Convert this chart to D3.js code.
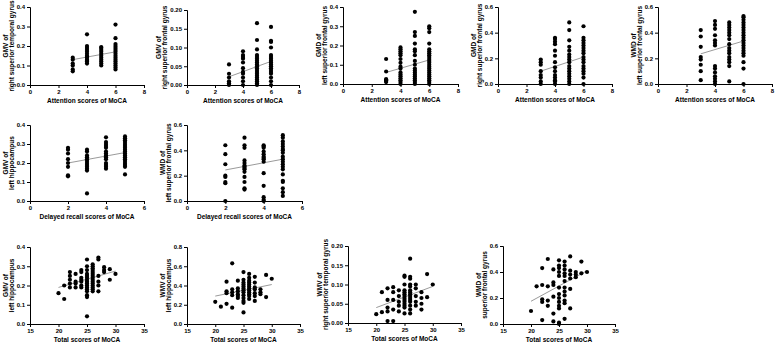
<!DOCTYPE html>
<html>
  <head>
    <meta charset="utf-8">
    <style type="text/css">
      body { margin: 0; background: #fff; }
      svg text { font-family: "Liberation Sans", Arial, sans-serif; font-weight: bold; fill: #000; }
    </style>
  </head>
  <body>
    <svg id="chart" width="776" height="346"></svg>
    <script src="https://d3js.org/d3.v7.min.js"></script>
    <script>
      // grouped data: [score, [values...]]
      const attnGmvRstg = [
        [3, [0.07, 0.08, 0.10, 0.11, 0.13, 0.14]],
        [4, [0.11, 0.12, 0.125, 0.13, 0.14, 0.145, 0.15, 0.16, 0.17, 0.18, 0.19, 0.20, 0.26]],
        [5, [0.10, 0.11, 0.12, 0.13, 0.14, 0.15, 0.16, 0.17, 0.18, 0.19, 0.195]],
        [6, [0.08, 0.09, 0.10, 0.11, 0.12, 0.13, 0.14, 0.15, 0.16, 0.17, 0.18, 0.19, 0.20, 0.21, 0.24, 0.31]]
      ];
      const attnGmvRsfg = [
        [3, [0.0, 0.005, 0.01, 0.02, 0.03, 0.055]],
        [4, [0.0, 0.01, 0.02, 0.03, 0.035, 0.045, 0.06, 0.07, 0.075, 0.08, 0.09]],
        [5, [0.0, 0.005, 0.01, 0.015, 0.02, 0.025, 0.03, 0.035, 0.04, 0.045, 0.05, 0.055, 0.06, 0.065, 0.07, 0.075, 0.08, 0.095, 0.12, 0.165]],
        [6, [0.0, 0.01, 0.02, 0.03, 0.035, 0.04, 0.045, 0.05, 0.055, 0.06, 0.065, 0.07, 0.075, 0.08, 0.1, 0.115, 0.118, 0.155]]
      ];
      const attnGmdLsfg = [
        [3, [0.01, 0.015, 0.02, 0.025, 0.065, 0.13]],
        [4, [0.0, 0.01, 0.02, 0.03, 0.04, 0.05, 0.06, 0.08, 0.09, 0.11, 0.13, 0.15, 0.16, 0.17, 0.18, 0.19]],
        [5, [0.0, 0.01, 0.02, 0.03, 0.04, 0.05, 0.06, 0.07, 0.08, 0.10, 0.12, 0.15, 0.17, 0.18, 0.21, 0.25, 0.27, 0.375]],
        [6, [0.0, 0.01, 0.02, 0.03, 0.04, 0.05, 0.06, 0.07, 0.08, 0.09, 0.10, 0.11, 0.12, 0.13, 0.14, 0.15, 0.16, 0.17, 0.18, 0.21, 0.27, 0.29, 0.30]]
      ];
      const attnGmdRsfg = [
        [3, [0.0, 0.02, 0.05, 0.07, 0.10, 0.15, 0.17, 0.19]],
        [4, [0.0, 0.02, 0.03, 0.05, 0.07, 0.10, 0.13, 0.17, 0.22, 0.26, 0.31, 0.33, 0.35, 0.36]],
        [5, [0.0, 0.02, 0.04, 0.06, 0.08, 0.10, 0.12, 0.14, 0.17, 0.19, 0.21, 0.23, 0.26, 0.29, 0.34, 0.42, 0.48]],
        [6, [0.0, 0.05, 0.08, 0.10, 0.12, 0.14, 0.17, 0.19, 0.21, 0.24, 0.26, 0.28, 0.30, 0.32, 0.34, 0.36, 0.45]]
      ];
      const attnWmdLsfg = [
        [3, [0.03, 0.10, 0.15, 0.19, 0.21, 0.29, 0.37, 0.42]],
        [4, [0.0, 0.02, 0.04, 0.06, 0.09, 0.12, 0.14, 0.30, 0.32, 0.34, 0.38, 0.43, 0.46, 0.49]],
        [5, [0.02, 0.14, 0.17, 0.19, 0.21, 0.24, 0.26, 0.28, 0.31, 0.35, 0.38, 0.40, 0.42, 0.44, 0.46, 0.48]],
        [6, [0.0, 0.12, 0.17, 0.22, 0.24, 0.26, 0.28, 0.30, 0.32, 0.34, 0.36, 0.38, 0.40, 0.42, 0.44, 0.46, 0.48, 0.50, 0.52, 0.53]]
      ];
      const recallGmvLhip = [
        [2, [0.13, 0.135, 0.18, 0.20, 0.22, 0.25, 0.27, 0.28]],
        [3, [0.04, 0.16, 0.17, 0.18, 0.19, 0.20, 0.21, 0.22, 0.23, 0.24, 0.26, 0.27]],
        [4, [0.17, 0.18, 0.19, 0.20, 0.22, 0.23, 0.24, 0.25, 0.26, 0.28, 0.29, 0.30, 0.31, 0.335]],
        [5, [0.14, 0.18, 0.19, 0.20, 0.21, 0.22, 0.23, 0.24, 0.25, 0.26, 0.27, 0.28, 0.29, 0.30, 0.31, 0.32, 0.33, 0.34]]
      ];
      const recallWmdLsfg = [
        [2, [0.0, 0.14, 0.15, 0.19, 0.20, 0.29, 0.37, 0.44]],
        [3, [0.09, 0.10, 0.15, 0.19, 0.23, 0.25, 0.26, 0.27, 0.28, 0.30, 0.32, 0.42, 0.44, 0.50]],
        [4, [0.0, 0.01, 0.03, 0.12, 0.22, 0.31, 0.33, 0.34, 0.35, 0.37, 0.39, 0.42, 0.43, 0.44]],
        [5, [0.04, 0.07, 0.10, 0.15, 0.16, 0.21, 0.25, 0.27, 0.29, 0.31, 0.33, 0.35, 0.38, 0.40, 0.41, 0.43, 0.45, 0.47, 0.50, 0.52]]
      ];
      const totalGmvLhip = [
        [20, [0.16]], [21, [0.13, 0.20]], [22, [0.19, 0.21, 0.23, 0.25, 0.27]],
        [23, [0.19, 0.21, 0.22, 0.26]], [24, [0.19, 0.20, 0.22, 0.23, 0.24, 0.27, 0.28]],
        [25, [0.04, 0.14, 0.15, 0.17, 0.18, 0.19, 0.20, 0.21, 0.22, 0.23, 0.24, 0.25, 0.26, 0.28, 0.30, 0.335]],
        [26, [0.17, 0.18, 0.19, 0.20, 0.21, 0.22, 0.23, 0.24, 0.25, 0.26, 0.27, 0.28, 0.29, 0.30, 0.31]],
        [27, [0.17, 0.20, 0.22, 0.25, 0.335, 0.345]], [28, [0.27, 0.28, 0.295]],
        [29, [0.23, 0.285]], [30, [0.26]]
      ];
      const totalWmvLhip = [
        [20, [0.23]], [21, [0.18]], [22, [0.21, 0.32, 0.34, 0.44]],
        [23, [0.17, 0.30, 0.33, 0.36, 0.63]], [24, [0.27, 0.29, 0.31, 0.34, 0.37, 0.45]],
        [25, [0.12, 0.22, 0.24, 0.27, 0.30, 0.33, 0.35, 0.37, 0.39, 0.41, 0.43, 0.46, 0.54]],
        [26, [0.26, 0.29, 0.31, 0.33, 0.35, 0.37, 0.39, 0.41, 0.43, 0.45, 0.48, 0.52]],
        [27, [0.24, 0.29, 0.32, 0.36, 0.38, 0.43, 0.49]], [28, [0.31, 0.33, 0.36]],
        [29, [0.28, 0.51]], [30, [0.47]]
      ];
      const totalWmvRstg = [
        [20, [0.023]], [21, [0.028, 0.08]], [22, [0.005, 0.03, 0.04, 0.06, 0.09]],
        [23, [0.005, 0.035, 0.06, 0.08, 0.093]], [24, [0.03, 0.045, 0.055, 0.07, 0.085]],
        [25, [0.025, 0.04, 0.045, 0.05, 0.055, 0.06, 0.065, 0.07, 0.075, 0.08, 0.085, 0.1, 0.12, 0.123]],
        [26, [0.025, 0.035, 0.045, 0.055, 0.06, 0.065, 0.07, 0.075, 0.08, 0.085, 0.095, 0.1, 0.115, 0.12, 0.167]],
        [27, [0.045, 0.055, 0.07, 0.09, 0.1]], [28, [0.035, 0.05, 0.065, 0.08]],
        [29, [0.067, 0.127]], [30, [0.1]]
      ];
      const totalWmdSfg = [
        [20, [0.10]], [21, [0.29]], [22, [0.03, 0.17, 0.19, 0.30, 0.43]],
        [23, [0.14, 0.18, 0.29, 0.50]], [24, [0.02, 0.08, 0.21, 0.30, 0.32, 0.42]],
        [25, [0.0, 0.01, 0.12, 0.14, 0.17, 0.20, 0.23, 0.28, 0.37, 0.40, 0.43, 0.45, 0.49]],
        [26, [0.04, 0.16, 0.18, 0.22, 0.25, 0.28, 0.33, 0.37, 0.39, 0.42, 0.45, 0.48]],
        [27, [0.12, 0.27, 0.35, 0.38, 0.41, 0.52]], [28, [0.36, 0.38, 0.40]],
        [29, [0.39, 0.48]], [30, [0.40]]
      ];

      // fitted regression lines: [[x0, y0], [x1, y1]]
      const fitLines = [
        [[3, 0.13], [6, 0.17]],
        [[3, 0.022], [6, 0.063]],
        [[3, 0.06], [6, 0.125]],
        [[3, 0.10], [6, 0.21]],
        [[3, 0.235], [6, 0.335]],
        [[2, 0.20], [5, 0.255]],
        [[2, 0.245], [5, 0.33]],
        [[20, 0.19], [30, 0.275]],
        [[20, 0.29], [30, 0.41]],
        [[20, 0.04], [30, 0.095]],
        [[20, 0.175], [30, 0.41]]
      ];

      const xTitles = ["Attention scores of MoCA", "Delayed recall scores of MoCA", "Total scores of MoCA"];
      const yTitles = [
        ["GMV of", "right superior temporal gyrus"],
        ["GMV of", "right superior frontal gyrus"],
        ["GMD of", "left superior frontal gyrus"],
        ["GMD of", "right superior frontal gyrus"],
        ["WMD of", "left superior frontal gyrus"],
        ["GMV of", "left hippocampus"],
        ["WMD of", "left superior frontal gyrus"],
        ["GMV of", "left hippocampus"],
        ["WMV of", "left hippocampus"],
        ["WMV of", "right superior temporal gyrus"],
        ["WMD of", "superior frontal gyrus"]
      ];
      const panelData = [attnGmvRstg, attnGmvRsfg, attnGmdLsfg, attnGmdRsfg, attnWmdLsfg,
        recallGmvLhip, recallWmdLsfg, totalGmvLhip, totalWmvLhip, totalWmvRstg, totalWmdSfg];
      const panelXTitle = [0, 0, 0, 0, 0, 1, 1, 2, 2, 2, 2];
      const xTickSets = [[0, 2, 4, 6, 8], [0, 2, 4, 6], [15, 20, 25, 30, 35]];
      const yTickSets = [
        [0, 0.1, 0.2, 0.3, 0.4],
        [0, 0.05, 0.10, 0.15, 0.20],
        [0, 0.1, 0.2, 0.3, 0.4],
        [0, 0.2, 0.4, 0.6],
        [0, 0.2, 0.4, 0.6],
        [0, 0.1, 0.2, 0.3, 0.4],
        [0, 0.2, 0.4, 0.6],
        [0, 0.1, 0.2, 0.3, 0.4],
        [0, 0.2, 0.4, 0.6, 0.8],
        [0, 0.05, 0.10, 0.15, 0.20],
        [0, 0.2, 0.4, 0.6]
      ];

      // plot boxes [left, top, right, bottom]
      const boxes = [
        [30, 7, 144, 85], [187, 10, 299, 85], [343, 7, 458, 84], [498, 7, 612, 84], [658, 7, 772, 84],
        [30, 125, 144, 201], [187, 125, 302, 201],
        [30, 247, 144, 324], [187, 247, 300, 324], [348, 246, 461, 323], [503, 246, 615, 324]
      ];

      const svg = d3.select("#chart");

      panelData.forEach((groups, i) => {
        const [l, t, r, b] = boxes[i];
        const xt = xTickSets[panelXTitle[i]];
        const yt = yTickSets[i];
        const x = d3.scaleLinear().domain([xt[0], xt[xt.length - 1]]).range([l, r]);
        const y = d3.scaleLinear().domain([0, yt[yt.length - 1]]).range([b, t]);
        const dec = yt[1] < 0.1 ? 2 : 1;
        const g = svg.append("g");

        const xAxis = g.append("g").attr("transform", `translate(0,${b})`)
          .call(d3.axisBottom(x).tickValues(xt).tickSize(3).tickPadding(2).tickFormat(d3.format("d")));
        const yAxis = g.append("g").attr("transform", `translate(${l},0)`)
          .call(d3.axisLeft(y).tickValues(yt).tickSize(3).tickPadding(2).tickFormat(d3.format(`.${dec}f`)));
        [xAxis, yAxis].forEach((a) => {
          a.select(".domain").attr("stroke", "#000").attr("stroke-width", 1);
          a.selectAll(".tick line").attr("stroke", "#000");
          a.selectAll("text").style("font-size", "6px").attr("font-family", null);
        });

        g.append("text")
          .attr("x", (l + r) / 2).attr("y", b + 18)
          .attr("text-anchor", "middle")
          .style("font-size", "6.5px")
          .text(xTitles[panelXTitle[i]]);

        // y title sits further out when tick labels have two decimals
        const ym = (t + b) / 2;
        const off = dec === 2 ? 20 : 16;
        yTitles[i].forEach((line, k) => {
          g.append("text")
            .attr("transform", `translate(${l - off - 6 + k * 6},${ym}) rotate(-90)`)
            .attr("text-anchor", "middle")
            .style("font-size", "6.5px")
            .text(line);
        });

        const fit = fitLines[i];
        g.append("line")
          .attr("x1", x(fit[0][0])).attr("y1", y(fit[0][1]))
          .attr("x2", x(fit[1][0])).attr("y2", y(fit[1][1]))
          .attr("stroke", "#808080").attr("stroke-width", 0.8);

        const pts = groups.flatMap(([sx, vals]) => vals.map((v) => [sx, v]));
        g.selectAll("circle").data(pts).enter().append("circle")
          .attr("cx", (d) => x(d[0]))
          .attr("cy", (d) => y(d[1]))
          .attr("r", 2.1)
          .attr("fill", "#000");
      });
    </script>
  </body>
</html>
